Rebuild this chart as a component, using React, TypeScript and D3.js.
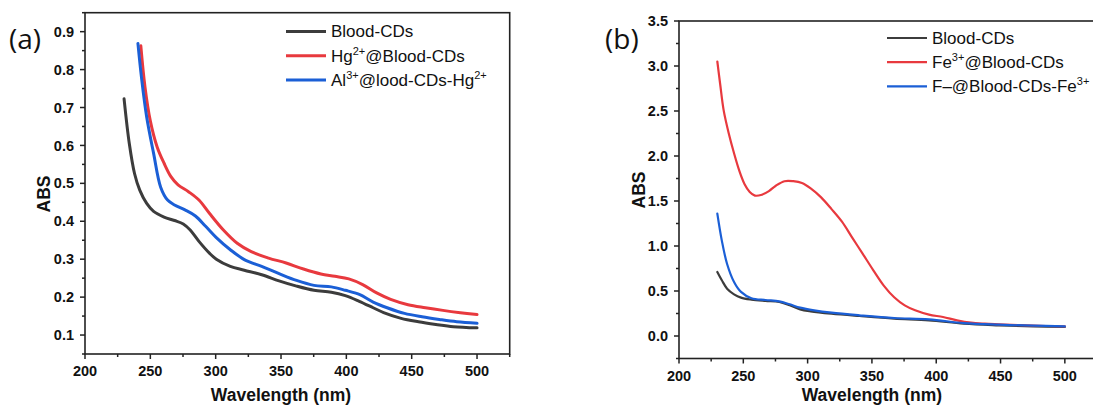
import React from "react";
import * as d3 from "d3";

// ---------- DATA ----------
// Panel (a)
const aBloodWl = [229.9, 233.9, 237.9, 241.9, 247.2, 252.5, 260.5, 268.5, 275.2, 280.5, 287.2, 295.2, 300.5, 311.2, 321.9, 335.2, 348.5, 361.9, 375.2, 388.5, 399.2, 409.9, 420.5, 428.5, 441.9, 455.2, 468.5, 481.9, 500];
const aBloodAbs = [0.723, 0.605, 0.526, 0.482, 0.447, 0.426, 0.411, 0.402, 0.393, 0.377, 0.347, 0.316, 0.3, 0.281, 0.271, 0.259, 0.243, 0.229, 0.218, 0.213, 0.204, 0.189, 0.172, 0.159, 0.144, 0.135, 0.128, 0.122, 0.119];
const aHgWl = [242.7, 245.9, 249.9, 255.2, 260.5, 265.9, 271.2, 279.2, 287.2, 295.2, 305.9, 316.5, 327.2, 340.5, 353.9, 367.2, 380.5, 391.2, 401.9, 412.5, 423.2, 433.9, 447.2, 460.5, 473.9, 487.2, 500];
const aHgAbs = [0.863, 0.754, 0.666, 0.596, 0.553, 0.517, 0.496, 0.478, 0.456, 0.421, 0.377, 0.342, 0.32, 0.303, 0.29, 0.274, 0.261, 0.255, 0.248, 0.233, 0.211, 0.194, 0.18, 0.172, 0.165, 0.159, 0.154];
const aAlWl = [240.5, 243.2, 247.2, 252.5, 257.9, 263.2, 268.5, 276.5, 284.5, 292.5, 300.5, 311.2, 321.9, 335.2, 348.5, 361.9, 375.2, 388.5, 399.2, 409.9, 420.5, 431.2, 444.5, 457.9, 471.2, 484.5, 500];
const aAlAbs = [0.869, 0.78, 0.675, 0.579, 0.49, 0.456, 0.443, 0.43, 0.414, 0.386, 0.357, 0.325, 0.299, 0.281, 0.262, 0.244, 0.231, 0.227, 0.218, 0.207, 0.187, 0.172, 0.157, 0.148, 0.141, 0.135, 0.131];

// Panel (b)
const bBloodWl = [229.8, 233.3, 237.4, 242.8, 248.2, 256.3, 267.2, 278, 286.1, 294.2, 302.4, 318.6, 340.3, 367.3, 394.4, 421.5, 448.6, 475.6, 500];
const bBloodAbs = [0.711, 0.619, 0.526, 0.463, 0.426, 0.404, 0.389, 0.378, 0.341, 0.296, 0.274, 0.248, 0.222, 0.193, 0.174, 0.137, 0.119, 0.107, 0.1];
const bFeWl = [229.8, 232, 234.7, 238.7, 242.8, 246.8, 250.9, 255, 259, 264.4, 269.9, 275.3, 282, 288.8, 295.6, 302.4, 310.5, 318.6, 326.7, 334.8, 343, 351.1, 359.2, 367.3, 375.5, 383.6, 394.4, 405.3, 416.1, 427, 437.7, 448.6, 475.6, 500];
const bFeAbs = [3.05, 2.8, 2.51, 2.25, 2.03, 1.84, 1.69, 1.6, 1.56, 1.57, 1.61, 1.67, 1.72, 1.72, 1.7, 1.64, 1.54, 1.41, 1.27, 1.09, 0.91, 0.73, 0.56, 0.43, 0.34, 0.285, 0.237, 0.211, 0.174, 0.148, 0.137, 0.13, 0.115, 0.107];
const bFWl = [229.8, 233.3, 237.4, 242.8, 248.2, 256.3, 267.2, 278, 286.1, 294.2, 305.1, 318.6, 340.3, 367.3, 394.4, 421.5, 448.6, 475.6, 500];
const bFAbs = [1.36, 1.06, 0.8, 0.6, 0.49, 0.42, 0.4, 0.385, 0.352, 0.315, 0.285, 0.259, 0.23, 0.2, 0.185, 0.144, 0.126, 0.115, 0.107];

const xTicks = [200, 250, 300, 350, 400, 450, 500];
const aYTicks = [0.1, 0.2, 0.3, 0.4, 0.5, 0.6, 0.7, 0.8, 0.9];
const bYTicks = [0.0, 0.5, 1.0, 1.5, 2.0, 2.5, 3.0, 3.5];

const GRAY = "#3c3c3c";
const RED = "#e8393e";
const BLUE = "#1b5fd6";

type Series = { wl: number[]; abs: number[]; color: string; label: React.ReactNode };

const aSeries: Series[] = [
  { wl: aBloodWl, abs: aBloodAbs, color: GRAY, label: <>Blood-CDs</> },
  { wl: aHgWl, abs: aHgAbs, color: RED, label: <>Hg<tspan dy={-7} fontSize={11}>2+</tspan><tspan dy={7}>@Blood-CDs</tspan></> },
  { wl: aAlWl, abs: aAlAbs, color: BLUE, label: <>Al<tspan dy={-7} fontSize={11}>3+</tspan><tspan dy={7}>@lood-CDs-Hg</tspan><tspan dy={-7} fontSize={11}>2+</tspan></> },
];
const bSeries: Series[] = [
  { wl: bBloodWl, abs: bBloodAbs, color: GRAY, label: <>Blood-CDs</> },
  { wl: bFeWl, abs: bFeAbs, color: RED, label: <>Fe<tspan dy={-7} fontSize={11}>3+</tspan><tspan dy={7}>@Blood-CDs</tspan></> },
  { wl: bFWl, abs: bFAbs, color: BLUE, label: <>F–@Blood-CDs-Fe<tspan dy={-7} fontSize={11}>3+</tspan></> },
];

const FONT = "'Liberation Sans', Arial, sans-serif";

type PanelProps = {
  left: number; right: number; top: number; bottom: number;
  yDomain: [number, number]; yTicks: number[]; yMinorStep: number; yFmt: (v: number) => string;
  series: Series[]; strokeW: number;
  tag: string; tagX: number; tagY: number;
  legX: number; legY: number; legStep: number;
  absX: number; absY: number;
};

function Panel(p: PanelProps) {
  const x = d3.scaleLinear().domain([200, 525]).range([p.left, p.right]);
  const y = d3.scaleLinear().domain(p.yDomain).range([p.bottom, p.top]);
  const line = d3.line<[number, number]>().x((d) => x(d[0])).y((d) => y(d[1])).curve(d3.curveCatmullRom.alpha(0.5));
  const xMinor = d3.range(225, 526, 50);
  const yMinor: number[] = [];
  for (let v = p.yTicks[0] - p.yMinorStep; v <= p.yDomain[1] + 1e-9; v += p.yMinorStep * 2) {
    if (v >= p.yDomain[0] - 1e-9) yMinor.push(+v.toFixed(4));
  }
  const axisColor = "#222";
  return (
    <g>
      {p.series.map((s, i) => (
        <path key={i} d={line(s.wl.map((w, j) => [w, s.abs[j]] as [number, number])) || ""} fill="none" stroke={s.color} strokeWidth={p.strokeW} strokeLinejoin="round" strokeLinecap="round" />
      ))}
      <rect x={p.left} y={p.top} width={p.right - p.left} height={p.bottom - p.top} fill="none" stroke={axisColor} strokeWidth={1.6} />
      {xTicks.map((t) => (
        <g key={"xt" + t}>
          <line x1={x(t)} x2={x(t)} y1={p.bottom} y2={p.bottom + 5} stroke={axisColor} strokeWidth={1.5} />
          <text x={x(t)} y={p.bottom + 22} textAnchor="middle" fontFamily={FONT} fontWeight="bold" fontSize={14.5} fill="#111">{t}</text>
        </g>
      ))}
      {xMinor.map((t) => (
        <line key={"xm" + t} x1={x(t)} x2={x(t)} y1={p.bottom} y2={p.bottom + 3} stroke={axisColor} strokeWidth={1.5} />
      ))}
      {p.yTicks.map((t) => (
        <g key={"yt" + t}>
          <line x1={p.left - 5} x2={p.left} y1={y(t)} y2={y(t)} stroke={axisColor} strokeWidth={1.5} />
          <text x={p.left - 11} y={y(t)} dy="0.35em" textAnchor="end" fontFamily={FONT} fontWeight="bold" fontSize={14.5} fill="#111">{p.yFmt(t)}</text>
        </g>
      ))}
      {yMinor.map((t) => (
        <line key={"ym" + t} x1={p.left - 3} x2={p.left} y1={y(t)} y2={y(t)} stroke={axisColor} strokeWidth={1.5} />
      ))}
      <text x={(x(200) + x(500)) / 2} y={401} textAnchor="middle" fontFamily={FONT} fontWeight="bold" fontSize={17.5} fill="#111">Wavelength (nm)</text>
      <text transform={`translate(${p.absX},${p.absY}) rotate(-90)`} textAnchor="middle" dy="0.35em" fontFamily={FONT} fontWeight="bold" fontSize={17.5} fill="#111">ABS</text>
      <text x={p.tagX} y={p.tagY} fontFamily="'Open Sans', 'Noto Sans', sans-serif" fontSize={28} fill="#111">{p.tag}</text>
      {p.series.map((s, i) => (
        <g key={"lg" + i}>
          <line x1={p.legX} x2={p.legX + 40} y1={p.legY + i * p.legStep} y2={p.legY + i * p.legStep} stroke={s.color} strokeWidth={p.strokeW} />
          <text x={p.legX + 45} y={p.legY + i * p.legStep} dy="0.35em" fontFamily={FONT} fontSize={17} fill="#111">{s.label}</text>
        </g>
      ))}
    </g>
  );
}

export default function App() {
  return (
    <svg width={1093} height={407} style={{ position: "absolute", left: 0, top: 0, background: "#fff" }}>
      <rect width={1093} height={407} fill="#fff" />
      <Panel left={85} right={509.7} top={12.7} bottom={354} yDomain={[0.05, 0.95]} yTicks={aYTicks} yMinorStep={0.05} yFmt={(v) => v.toFixed(1)}
        series={aSeries} strokeW={3} tag="(a)" tagX={9} tagY={49} legX={286} legY={31.5} legStep={24.3} absX={44} absY={194} />
      <Panel left={679} right={1097} top={21} bottom={358.5} yDomain={[-0.25, 3.5]} yTicks={bYTicks} yMinorStep={0.25} yFmt={(v) => v.toFixed(1)}
        series={bSeries} strokeW={2.2} tag="(b)" tagX={605} tagY={49} legX={887} legY={38} legStep={24.2} absX={639} absY={190} />
    </svg>
  );
}
